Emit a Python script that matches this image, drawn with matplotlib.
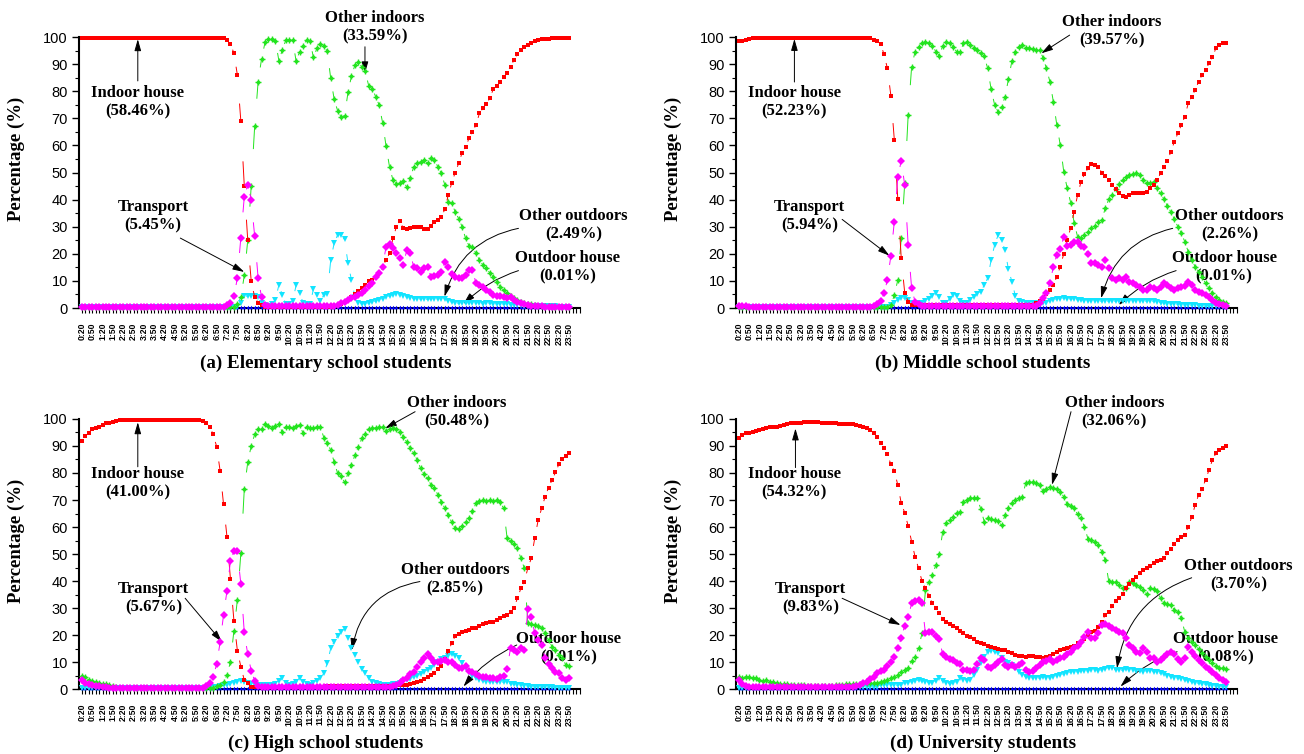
import numpy as np
import matplotlib
matplotlib.use("Agg")
import matplotlib.pyplot as plt
from matplotlib.ticker import MultipleLocator
from matplotlib.collections import LineCollection

plt.rcParams['font.family'] = ['Liberation Sans', 'DejaVu Sans']

# one label every 30 min, data every 10 min from 0:20 to 23:50
time_labels = ["0:20", "0:50", "1:20", "1:50", "2:20", "2:50", "3:20", "3:50",
               "4:20", "4:50", "5:20", "5:50", "6:20", "6:50", "7:20", "7:50",
               "8:20", "8:50", "9:20", "9:50", "10:20", "10:50", "11:20", "11:50",
               "12:20", "12:50", "13:20", "13:50", "14:20", "14:50", "15:20", "15:50",
               "16:20", "16:50", "17:20", "17:50", "18:20", "18:50", "19:20", "19:50",
               "20:20", "20:50", "21:20", "21:50", "22:20", "22:50", "23:20", "23:50"]

# ---------------- (a) Elementary school students ----------------
a_indoor_house = [99.5] * 42 + [99, 97.5, 94, 86, 69, 45, 25, 10, 4, 2, 1] + [0.5] * 20 + [
    0.8, 1.2, 1.6, 2.2, 3, 4, 5, 6.2, 7.5, 8.5,
    10, 10.3, 11.5, 12.8, 15.2, 17.7, 20.2, 25.7, 30, 32.2,
    29.4, 29, 29.6, 29.8, 30, 30, 29, 29.2, 30.3, 31.6,
    32.5, 33.7, 36.4, 41.7, 46.2, 50, 53.4, 57.3, 59.5, 62.6,
    65.1, 67.5, 71.8, 73.7, 75.3, 77.4, 80.7, 81.9, 83.5, 85.4,
    86.8, 89.1, 91.5, 93.7, 95.2, 96.2, 97, 97.8, 98.4, 98.9,
    99.1, 99.3, 99.4, 99.6, 99.7, 99.7, 99.8, 99.8, 99.8]
a_other_indoors = [0.3] * 45 + [
    1.5, 4, 12, 25, 45, 67, 83.5, 92, 98, 99.1,
    99.1, 98.7, 91.3, 95.2, 98.8, 99, 98.8, 91, 94.6, 96.8,
    98.8, 98.4, 92.5, 95.8, 97.4, 96.8, 94.7, 84.7, 77, 72.8,
    70.5, 71, 79.6, 85.6, 89.7, 90.7, 89, 87.3, 81.9, 81,
    78, 74.9, 68.4, 59.8, 52.1, 47.2, 45.8, 46, 47, 44.5,
    47.9, 52.1, 53.4, 54, 54.5, 53.4, 55.2, 54.5, 52.1, 49.7,
    45.4, 39.2, 38.6, 35.5, 33, 30, 25.7, 22.9, 22.4, 20.2,
    17.7, 15.9, 14.6, 13, 11.5, 9.7, 7.9, 6.6, 5.4, 4.4,
    3.6, 3, 2.3, 1.9, 1.6, 1.3, 1.1, 0.9, 0.8, 0.7,
    0.6, 0.5, 0.5, 0.5, 0.5, 0.5, 0.5]
a_transport = [0.5] * 42 + [1, 2, 4.4, 11, 26, 41, 45.5, 40, 26.5, 11, 4, 1] + [0.6] * 19 + [
    0.8, 1.2, 1.8, 2.3, 3, 3.6, 4.2, 4.8, 5.5, 6.6,
    8, 9.1, 11.5, 13, 15.2, 22.6, 23.5, 22, 20.2, 18.4,
    15.9, 21.4, 20.4, 15.2, 14.8, 13.4, 14.6, 15.2, 11.5, 11.7,
    12, 13.4, 17.1, 15.2, 12.5, 11.5, 11, 10.9, 12, 14,
    14.2, 9.1, 8.5, 7.9, 6.6, 6, 4.8, 4.6, 4.4, 4,
    3.6, 4.2, 3, 2.3, 1.7, 1.4, 1.2, 0.9, 0.8, 0.7,
    0.6, 0.5, 0.4, 0.4, 0.3, 0.3, 0.3, 0.3, 0.3]
a_other_outdoors = [0.2] * 45 + [
    0.5, 2, 4.5, 4.5, 4.5, 4.5, 4, 2, 1, 0.8,
    1.5, 3, 8.5, 4.8, 1.5, 1.5, 2.5, 8.5, 5.4, 2,
    1.5, 1.5, 6.9, 4.8, 2.6, 4.8, 5, 17.7, 24, 27,
    27, 25.3, 16.5, 10.3, 4, 2, 1.5, 1.6, 1.8, 2.2,
    2.5, 3, 3.5, 4, 4.5, 4.8, 5, 4.8, 4.5, 4,
    3.6, 3.5, 3.4, 3.3, 3.3, 3.2, 3.3, 3.2, 3.4, 3.5,
    3.4, 2.5, 2.2, 2, 2, 1.9, 1.8, 1.8, 1.9, 1.8,
    1.7, 1.6, 1.8, 1.7, 1.6, 1.5, 1.5, 1.4, 1.3, 1.2,
    1.1, 1, 1, 0.9, 0.9, 0.8, 0.8, 0.8, 0.7, 0.7,
    0.6, 0.6, 0.6, 0.5, 0.5, 0.5, 0.5]
a_outdoor_house = [0.2] * 142

# ---------------- (b) Middle school students ----------------
b_indoor_house = [98.5, 98.5, 99, 99.3] + [99.5] * 35 + [
    99, 98.6, 97.5, 93.7, 88.4, 78.4, 62, 40.2, 18.3, 5.7, 2.3] + [1.2] * 36 + [
    1.8, 2.5, 3.5, 5, 6.6, 8.5, 11.6, 15.3, 20, 25.1,
    29.6, 35.5, 41.7, 46.6, 49.4, 51.5, 53, 52.8, 52.2, 49.9,
    48.7, 47.2, 45.4, 43.8, 42.6, 41.3, 41.1, 41.7, 42.3, 42.6,
    42.6, 42.6, 42.8, 44.2, 45.4, 47.2, 49.7, 52.2, 54.4, 57.7,
    61.4, 64.5, 67.5, 70.6, 75.5, 78, 80.4, 83.5, 86, 87.8,
    90.3, 92.7, 95.8, 97, 97.7, 97.9]
b_other_indoors = [0.3] * 44 + [
    1, 4.8, 10.3, 25.7, 46, 71.2, 89, 94.6, 96.4, 97.7,
    98, 97.7, 96.8, 94.6, 93.1, 96.8, 98.3, 97.9, 96.4, 94.6,
    94.3, 97.7, 98.3, 97, 96.1, 95.2, 94, 93, 88.4, 80.7,
    75, 72.4, 74.3, 77.9, 84.4, 91.1, 94.6, 96.4, 97, 96.1,
    95.8, 95.4, 95.2, 95.2, 92.4, 88.4, 83.5, 76.1, 67.5, 60.1,
    50.3, 44.2, 38.9, 31.5, 26.3, 25.7, 27, 28.2, 29.4, 30.3,
    31.9, 32.5, 36.8, 40.1, 41.7, 43.8, 45.6, 47.2, 48.5, 49.1,
    49.4, 49.7, 49, 47.2, 46.2, 46, 46.6, 44.2, 42.3, 40.1,
    37.6, 35.4, 32.7, 30, 27.6, 24.5, 20.8, 17.7, 15.3, 13.4,
    11.6, 9.1, 7.3, 5.4, 3.9, 3, 2.3, 1.7]
b_transport = [0.8] * 3 + [0.4] * 36 + [
    0.8, 1.5, 2.5, 5.4, 10.3, 19.3, 31.9, 48.2, 54.4, 45.4,
    23.2, 7.3, 2.3, 1.5] + [0.8] * 34 + [
    2, 3.6, 5.4, 9.1, 15.3, 19.6, 21.6, 26.3, 22.9, 23.2,
    24.5, 24.5, 22.9, 22.6, 19.9, 16.5, 16.5, 15.9, 15.3, 17.7,
    14.6, 10.9, 10.3, 10.9, 10.3, 11.6, 9.7, 9.1, 8.5, 7.6,
    6.6, 6.6, 7.6, 7.3, 6.6, 7.9, 9.1, 8.5, 7.3, 6.6,
    7.3, 7.6, 8.1, 9.7, 8.5, 6.6, 6, 5.4, 4.8, 4.2,
    3, 2, 1.5, 1.1, 0.7]
b_other_outdoors = [0.2] * 43 + [
    0.5, 1, 2, 3, 3.6, 3.6, 3, 2, 1.5, 1.7,
    2, 2.5, 3.5, 4.5, 5.4, 4, 2, 2, 3.5, 4.8,
    4.4, 2.5, 1.8, 2, 3, 4.2, 5.2, 6, 8.5, 11,
    17.7, 23.2, 26.9, 25.1, 21.4, 14.3, 9.7, 4.5, 2.5, 2.3] + [2] * 7 + [
    2.5, 3, 3.2, 3.5, 3.6, 3.5, 3.3, 3.2, 3, 3] + [2.5] * 21 + [
    2.2, 2, 1.8, 1.6, 1.5, 1.4, 1.3, 1.2, 1.1, 1,
    1, 1, 0.9, 0.9, 0.9, 0.8, 0.8, 0.8, 0.8, 0.7, 0.7]
b_outdoor_house = [0.2] * 142

# ---------------- (c) High school students ----------------
c_indoor_house = [92, 93.8, 94.7, 96.2, 96.8, 97.2, 97.8, 98.4, 98.6, 99, 99.4] + [99.6] * 24 + [
    99.3, 98.6, 97.2, 94.3, 89.8, 80.9, 68.4, 56.3, 40.7, 25.3,
    14.2, 8.3, 3.3, 2.1] + [0.8] * 22 + [1.2] * 10 + [1.0] * 6 + [
    1, 1, 1.1, 1.2, 1.3, 1.4, 1.5, 1.6, 1.8, 2.2,
    2.6, 3, 3.6, 4.3, 5.2, 6.1, 7.3, 8.5, 11, 14,
    17, 19.6, 20.5, 21.2, 21.5, 21.9, 22.5, 22.7, 23.5, 24,
    24.3, 24.7, 25, 25.6, 26.2, 27, 27.4, 28.6, 30.1, 33.6,
    37.3, 39.8, 44.7, 48.4, 55.8, 62.6, 66.9, 71.2, 74.6, 77.4,
    80.2, 83.3, 85.2, 86.3, 87.3]
c_other_indoors = [4.9, 4.6, 3.3, 3.1, 2.7, 2.3, 1.9, 1.9, 1.5, 1.2, 0.9] + [0.5] * 28 + [
    1, 1.5, 2.7, 5.2, 10.1, 21.6, 33, 50.2, 74, 84,
    90, 94.3, 96.2, 96.2, 98, 97.5, 96.8, 97.5, 98, 95,
    97.2, 97.2, 96.8, 97.5, 97.8, 94.7, 97.2, 96.8, 96.8, 97.2,
    97.2, 93.1, 91, 88.5, 84, 79.9, 79, 76.5, 79.9, 83,
    86.7, 89.8, 92.8, 94.5, 96.3, 96.5, 96.8, 96.9, 97, 95.6,
    96.3, 96.5, 96.3, 95.3, 93.5, 91.4, 89.1, 87.3, 84.8, 81.7,
    79.5, 78, 75.6, 74.3, 71.9, 69.4, 66.9, 64.4, 61.7, 59.5,
    59.1, 60.5, 62, 63.5, 65.9, 68.8, 69.6, 70, 69.6, 70,
    69.6, 70, 69.4, 66.9, 56, 54.8, 53.6, 52.1, 48.4, 44.7,
    24.3, 23.9, 23.7, 23.5, 22.5, 20.6, 18.1, 15.7, 14.4, 12.6,
    11.4, 8.9, 8.5]
c_transport = [3.3, 2.3, 1.7, 1.5, 1.2, 1, 0.8, 0.7] + [0.5] * 28 + [
    1, 2.1, 4.6, 9.1, 17.3, 27.4, 36.4, 47.5, 51.1, 51.1,
    38.9, 21, 12.8, 6.8, 3.1, 1] + [0.6] * 37 + [
    0.8, 1, 1.5, 2.3, 3.3, 4.2, 5.4, 6.4, 8, 10.1,
    11.6, 12.8, 11.4, 10.1, 9.9, 10.4, 10.7, 9.9, 10, 8.9,
    7.7, 7.7, 8.5, 6.7, 6.4, 5.4, 4.9, 4.3, 4.4, 4,
    4.1, 3.7, 4.3, 4.9, 7.4, 15.1, 14.4, 13.8, 15.1, 14.4,
    29.6, 26.8, 20.6, 18.1, 16.3, 11.4, 9.1, 7.9, 6.4, 5.8,
    4, 3.3, 4.2]
c_other_outdoors = [0.4] * 38 + [
    0.6, 0.8, 1, 1.3, 1.6, 2, 2.4, 2.7, 3, 2.7,
    2.4, 1.8, 1.5, 1.3, 1.5, 1.6, 1.4, 1.5, 2, 3,
    4, 2.2, 1.6, 1.8, 2.5, 4.2, 2.5, 1.8, 1.6, 2.2,
    3, 4, 5.8, 9.5, 15.1, 17.5, 19.8, 21.2, 22.1, 18.8,
    15.1, 12.6, 9.9, 7.4, 5.8, 4, 2.7, 2.1, 1.7, 1.5,
    1.5, 1.6, 1.8, 2, 2.4, 2.8, 3.3, 3.8, 4.3, 4.8,
    5.4, 6.2, 7, 7.7, 8.9, 10.1, 11, 11.6, 12.3, 12.8,
    12.3, 11.4, 9.5, 7.7, 6.2, 4.9, 4, 3.3, 3, 2.7,
    2.5, 2.5, 2.5, 2.7, 2.7, 2.5, 1.9, 1.7, 1.5, 1.4,
    1.2, 1.1, 0.9, 0.8, 0.7, 0.7, 0.6, 0.6, 0.6, 0.5,
    0.5, 0.5, 0.5, 0.5]
c_outdoor_house = [0.2] * 142

# ---------------- (d) University students ----------------
d_indoor_house = [
    92.8, 94.1, 94.7, 94.9, 95.3, 95.6, 95.9, 96.3, 96.8, 96.9,
    97.2, 97.2, 97.5, 97.8, 98.1, 98.4, 98.4, 98.6, 98.7, 98.8,
    98.8, 98.8, 98.8, 98.8, 98.7, 98.6, 98.5, 98.5, 98.4, 98.2,
    98.1, 98, 98, 98, 97.9, 97.5, 97.2, 96.8, 95.9, 94.7,
    93.2, 91, 89.1, 86.9, 83.2, 80.7, 75.6, 68.8, 65.3, 60.4,
    54.6, 49, 44.7, 40, 37.3, 34.6, 31.7, 30.1, 28, 25.9,
    24.7, 24, 23.5, 22.5, 21.5, 20.6, 19.8, 19.1, 18.5, 17.5,
    17, 16.5, 16, 15.7, 15.1, 14.9, 14.6, 14.4, 13.8, 13.2,
    12.6, 12.3, 12.1, 12, 12.2, 12.2, 12, 11.8, 11.6, 12,
    12.2, 12.8, 13.8, 14.4, 14.8, 15.3, 15.7, 16, 16.9, 17.5,
    18.5, 20, 21.2, 21.5, 23.1, 24.9, 27.4, 28.6, 30.7, 32.6,
    33.8, 35.1, 37.3, 38.8, 40.4, 41.6, 42.8, 44.1, 44.9, 45.7,
    46.5, 47.4, 47.8, 48.6, 50.2, 51.9, 53.6, 55.2, 56.4, 57,
    60.1, 63.6, 68.1, 71.9, 74.1, 77.4, 81.1, 84.8, 87.3, 88.5,
    89.4, 90]
d_other_indoors = [
    4.3, 4.2, 4.6, 4.3, 4.2, 4, 3.3, 3.1, 3.2, 2.7,
    2.5, 2.1, 1.9, 1.7, 1.7, 1.6, 1.5, 1.5, 1.4, 1.3] + [1.2] * 8 + [
    1.4, 1.5, 1.6, 1.7, 1.9, 1.9, 1.9, 2, 2.1, 2.1,
    2.2, 2.2, 2.3, 2.7, 3.1, 3.3, 4, 4.3, 5.2, 6.4,
    7, 7.9, 10.4, 12, 15.1, 20.6, 36.7, 39.8, 42.2, 45.9,
    49.9, 58.3, 61.6, 62.6, 63.8, 65.1, 65.7, 69.1, 70, 70.6,
    70.9, 70.6, 66.7, 62, 63.2, 63, 62.6, 62.2, 60.7, 64.4,
    66.9, 68.8, 70, 70.6, 71.2, 76.2, 76.8, 76.5, 76.2, 75.6,
    73.3, 74.1, 74.9, 74.6, 74.1, 73.1, 71.2, 68.4, 67.9, 66.9,
    64.7, 63.2, 60.1, 55.6, 55.2, 54.3, 53.3, 50.9, 47.8, 40,
    39.8, 39.5, 38.5, 37.5, 37.3, 39.5, 39.1, 38.5, 37.9, 36.7,
    35.1, 37.3, 37, 36.3, 33.6, 31.7, 31.4, 31.1, 29.3, 28.4,
    26.2, 21.2, 18.8, 17.5, 16.3, 14.8, 13.2, 12, 10.7, 9.5,
    8.6, 7.9, 7.7, 7.4]
d_transport = [3.3, 1.7, 1.1, 0.9] + [0.8] * 30 + [
    1.1, 1.5, 2.1, 2.7, 3.7, 4.6, 5.8, 6.7, 7, 8.6,
    10.1, 12, 15.1, 18.8, 23.5, 26.5, 31.7, 32.6, 33, 31.7,
    20.6, 21.2, 21, 19.8, 18.5, 12.8, 12, 11.1, 10.7, 9.5,
    9.1, 7, 7, 6.7, 7, 9.1, 11.4, 10.7, 8.3, 7.7,
    8.9, 10.1, 11.1, 8.9, 8.3, 8.9, 8.3, 8.9, 9.5, 7,
    6.4, 6.7, 7.7, 8.9, 10.1, 10.4, 11.1, 10.1, 10.7, 11.4,
    12, 12.8, 13.8, 15.1, 16, 17.5, 19.4, 21.2, 18.8, 19,
    20.6, 23.7, 24, 23.5, 22.7, 21.9, 21.2, 20.6, 18.8, 16.3,
    15.1, 13.8, 13.5, 15.1, 13.6, 11.6, 11.4, 10.1, 10.7, 12,
    12.8, 13.8, 12.8, 11.1, 10.1, 11.4, 15.7, 13.8, 12.3, 10.7,
    9.5, 8.3, 7.4, 6.2, 5.2, 4.2, 3.3, 2.7]
d_other_outdoors = [0.5] * 34 + [0.9] * 7 + [1.5] * 7 + [
    2.1, 2.4, 2.7, 3, 3.3, 2.8, 2.5, 2.4, 2.3, 3,
    4, 3, 2.3, 2, 2.3, 2.7, 4, 3.3, 3, 3.3,
    5.2, 7, 9.5, 12, 13.8, 14.1, 13.8, 13.2, 11.4, 10.1,
    9.5, 8.9, 7.7, 6.2, 5.2, 4.6, 4, 4.2, 4.2, 4,
    4.4, 4.2, 4, 4.6, 4.9, 5.2, 5.4, 5.8, 6.2, 6.2,
    6.4, 6.7, 6.5, 6.7, 7, 7, 6.8, 7, 7.4, 7.9,
    7.7, 7, 7, 7, 7.4, 7, 7, 6.7, 6.7, 6.4,
    6.7, 6.5, 6.4, 6.2, 5.8, 5.4, 4.9, 4.6, 4.2, 4,
    3.7, 3.3, 3, 2.7, 2.3, 2.1, 1.9, 1.7, 1.5, 1.2,
    1, 0.9, 0.8, 0.7]
d_outdoor_house = [0.3] * 142

# label text, share text, text centre, arrow tail, arrow tip, curvature
notes_a = [("Indoor house", "(58.46%)", (16.1, 76.1), (16.2, 83.8), (16.2, 99.2), 0.0),
           ("Other indoors", "(33.59%)", (84.8, 103.8), (81.9, 96.4), (81.9, 86.6), 0.0),
           ("Transport", "(5.45%)", (20.6, 34.0), (28.5, 25.8), (47.0, 13.3), 0.0),
           ("Other outdoors", "(2.49%)", (142.2, 30.6), (126.3, 29.4), (104.9, 4.2), 0.3),
           ("Outdoor house", "(0.01%)", (140.6, 15.2), (126.3, 13.8), (110.4, 1.5), 0.12)]
notes_b = [("Indoor house", "(52.23%)", (16.1, 76.1), (16.1, 83.4), (16.1, 99.3), 0.0),
           ("Other indoors", "(39.57%)", (108.0, 102.2), (95.7, 100.7), (87.5, 94.0), 0.0),
           ("Transport", "(5.94%)", (20.4, 33.7), (29.9, 32.7), (43.6, 19.3), 0.0),
           ("Other outdoors", "(2.26%)", (141.9, 30.6), (125.5, 29.4), (104.8, 3.6), 0.3),
           ("Outdoor house", "(0.01%)", (140.4, 15.2), (126.5, 13.8), (109.9, 1.1), 0.12)]
notes_c = [("Indoor house", "(41.00%)", (16.1, 76.2), (16.2, 82.3), (16.2, 98.8), 0.0),
           ("Transport", "(5.67%)", (20.7, 33.6), (29.9, 33.6), (40.5, 17.5), 0.0),
           ("Other indoors", "(50.48%)", (108.4, 102.6), (96.4, 102.7), (87.7, 96.5), 0.0),
           ("Other outdoors", "(2.85%)", (107.9, 40.6), (97.8, 39.8), (78.1, 14.4), 0.35),
           ("Outdoor house", "(0.01%)", (140.7, 15.1), (125.8, 16.3), (110.4, 0.9), 0.12)]
notes_d = [("Indoor house", "(54.32%)", (16.1, 76.2), (16.4, 82.0), (16.4, 96.5), 0.0),
           ("Transport", "(9.83%)", (20.7, 33.6), (29.9, 33.6), (46.8, 23.7), 0.0),
           ("Other indoors", "(32.06%)", (108.6, 102.7), (96.1, 102.7), (90.6, 75.6), 0.0),
           ("Other outdoors", "(3.70%)", (144.6, 42.2), (131.0, 41.2), (109.4, 7.7), 0.3),
           ("Outdoor house", "(0.08%)", (140.8, 15.1), (126.8, 13.8), (110.4, 0.9), 0.12)]

panels = [
    ("(a) Elementary school students", [0.0606, 0.5915, 0.3842, 0.3594],
     a_outdoor_house, a_other_outdoors, a_other_indoors, a_indoor_house, a_transport, notes_a),
    ("(b) Middle school students", [0.5644, 0.5915, 0.3842, 0.3594],
     b_outdoor_house, b_other_outdoors, b_other_indoors, b_indoor_house, b_transport, notes_b),
    ("(c) High school students", [0.0606, 0.0862, 0.3842, 0.3581],
     c_outdoor_house, c_other_outdoors, c_other_indoors, c_indoor_house, c_transport, notes_c),
    ("(d) University students", [0.5644, 0.0862, 0.3842, 0.3581],
     d_outdoor_house, d_other_outdoors, d_other_indoors, d_indoor_house, d_transport, notes_d),
]

# drawing order: bottom to top
colors = ['#0000ff', '#12e4ff', '#22e41e', '#ff0000', '#ff00ff']
styles = [[dict(marker='^', ms=2.6)],
          [dict(marker='v', ms=4.3)],
          [dict(marker='D', ms=2.6), dict(marker='+', ms=4.6, mew=1.0)],
          [dict(marker='s', ms=3.5)],
          [dict(marker='D', ms=4.0)]]

serif = dict(family='Liberation Serif', weight='bold')

fig = plt.figure(figsize=(13.04, 7.54), dpi=100)

for title, rect, *series, notes in panels:
    ax = fig.add_axes(rect)
    for k, (values, col, sts) in enumerate(zip(series, colors, styles)):
        x = np.arange(len(values))
        y = np.asarray(values, dtype=float)
        # short thin joining strokes just before each point (visible only on steep jumps)
        p0 = np.column_stack([x[:-1], y[:-1]])
        p1 = np.column_stack([x[1:], y[1:]])
        segs = np.stack([p0 + 0.62 * (p1 - p0), p1], axis=1)
        ax.add_collection(LineCollection(segs, colors=col, linewidths=0.7,
                                         zorder=3 + k, clip_on=False))
        for st in sts:
            kw = dict(mew=0)
            kw.update(st)
            ax.plot(x, y, linestyle='none', color=col, clip_on=False, zorder=3 + k, **kw)

    ax.set_xlim(-0.8, 144.1)
    ax.set_ylim(0, 100)
    for side in ('top', 'right'):
        ax.spines[side].set_visible(False)
    for side in ('left', 'bottom'):
        ax.spines[side].set_linewidth(1.5)

    ax.set_xticks(np.arange(0, 142, 3))
    ax.set_xticklabels(time_labels, rotation=90, fontsize=6.2, fontweight='bold')
    ax.xaxis.set_minor_locator(MultipleLocator(1))
    ax.yaxis.set_major_locator(MultipleLocator(10))
    ax.yaxis.set_minor_locator(MultipleLocator(5))
    ax.tick_params(axis='x', which='both', direction='out', length=3.5, width=0.8, pad=7)
    ax.tick_params(axis='y', which='major', direction='out', length=5, width=1.0, pad=3,
                   labelsize=10.5)
    ax.tick_params(axis='y', which='minor', direction='out', length=2.8, width=0.8)

    ax.set_ylabel("Percentage (%)", fontsize=13.5, **serif)
    ax.yaxis.set_label_coords(-0.107, 0.55)

    for name, share, txy, tail, tip, rad in notes:
        ax.text(txy[0], txy[1], name + "\n" + share, ha='center', va='center',
                multialignment='center', linespacing=1.2, fontsize=12, zorder=1, **serif)
        ax.annotate('', xy=tip, xytext=tail, annotation_clip=False, zorder=2,
                    arrowprops=dict(arrowstyle='-|>,head_length=0.7,head_width=0.2',
                                    mutation_scale=10, color='black', lw=0.7,
                                    shrinkA=0, shrinkB=0,
                                    connectionstyle=f'arc3,rad={rad}'))

    ax.text(0.493, -0.203, title, transform=ax.transAxes, ha='center', va='center',
            fontsize=13.8, **serif)

fig.savefig("out.png", dpi=100)
